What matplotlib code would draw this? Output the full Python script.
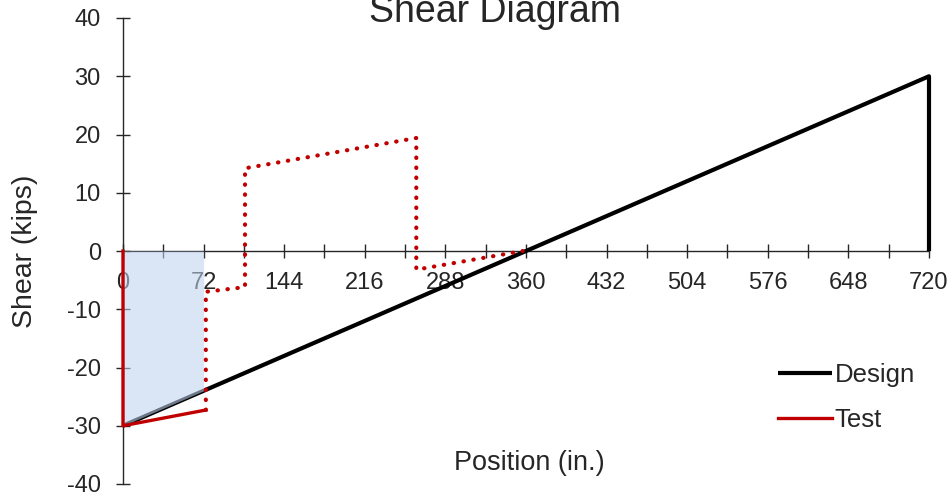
import matplotlib
matplotlib.use("Agg")
import matplotlib.pyplot as plt
from matplotlib.ticker import MultipleLocator, FixedLocator

plt.rcParams['font.family'] = ['Liberation Sans', 'DejaVu Sans']
plt.rcParams['axes.unicode_minus'] = False

# Data
design_x = [0, 720, 720]
design_y = [-30, 30, 0]
test_solid_x = [0, 0, 74]
test_solid_y = [0, -30, -27.3]
test_dot_x = [74, 74, 109, 109, 262, 262, 357]
test_dot_y = [-27.3, -7.0, -6.2, 14.2, 19.4, -3.2, 0]
fill_x = [0, 72]
fill_lower = [-30, -24]
fill_upper = [0, 0]
x_major = [0, 72, 144, 216, 288, 360, 432, 504, 576, 648, 720]
y_ticks = [-40, -30, -20, -10, 0, 10, 20, 30, 40]

DARK = '#262626'
RED = '#C00000'

fig = plt.figure(figsize=(9.53, 4.97), dpi=100)
ax = fig.add_axes([123/953, 1-484/497, 806/953, 466/497])

ax.plot(design_x, design_y, color='black', lw=3.0, solid_capstyle='butt',
        label='Design', zorder=3, clip_on=False)
ax.plot(test_solid_x, test_solid_y, color=RED, lw=2.4, label='Test', zorder=4,
        clip_on=False)
ax.plot(test_dot_x, test_dot_y, color=RED, lw=3.0, linestyle=(0, (0.1, 2.3)),
        dash_capstyle='round', zorder=4, clip_on=False)
ax.fill_between(fill_x, fill_lower, fill_upper, color='#BFD4EF', alpha=0.57,
                lw=0, zorder=3.5)

ax.set_xlim(0, 720)
ax.set_ylim(-40, 40)

for s in ['top', 'right']:
    ax.spines[s].set_visible(False)
ax.spines['bottom'].set_position(('data', 0))
for s in ['left', 'bottom']:
    ax.spines[s].set_color(DARK)
    ax.spines[s].set_linewidth(1.0)

ax.xaxis.set_major_locator(FixedLocator(x_major))
ax.xaxis.set_minor_locator(MultipleLocator(36))
ax.set_yticks(y_ticks)
ax.tick_params(axis='both', which='both', direction='inout', length=10,
               width=1.0, color=DARK, labelcolor=DARK, labelsize=17)
ax.tick_params(axis='x', which='both', pad=10)
ax.tick_params(axis='y', pad=11)

ax.set_xlabel('Position (in.)', fontsize=19.5, color=DARK)
ax.xaxis.set_label_coords(0.504, 0.072)
ax.set_ylabel('Shear (kips)', fontsize=20.5, color=DARK)
ax.yaxis.set_label_coords(-0.1216, 0.5)
ax.yaxis.label.set_va('center')

fig.text(495/953, 1-22/497, 'Shear Diagram', fontsize=27, color=DARK,
         ha='center', va='baseline')

ax.legend(loc='center left', bbox_to_anchor=(0.8127, 0.186), frameon=False,
          fontsize=18.5, handlelength=2.1, handletextpad=0.1, labelspacing=0.8,
          borderpad=0, borderaxespad=0, labelcolor=DARK)

fig.savefig('out.png', dpi=100)
